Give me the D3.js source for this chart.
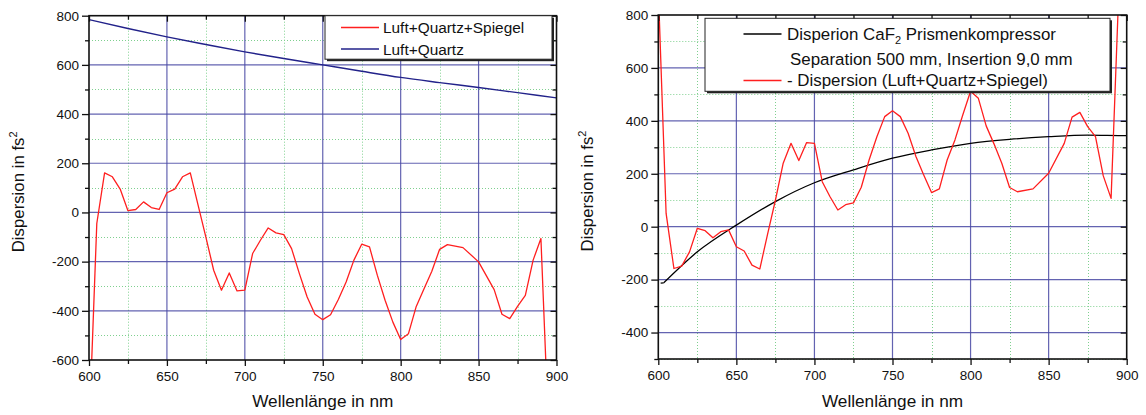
<!DOCTYPE html>
<html>
<head>
<meta charset="utf-8">
<script src="https://cdn.jsdelivr.net/npm/d3@7/dist/d3.min.js"></script>
<style>
  html, body { margin: 0; padding: 0; background: #fff; }
  svg { display: block; font-family: "Liberation Sans", Arial, sans-serif; }
</style>
</head>
<body>
<svg id="chart" width="1146" height="415"></svg>
<script>
// ---------- Data ----------
const xTicks = [600, 650, 700, 750, 800, 850, 900];
const xMinorTicks = [625, 675, 725, 775, 825, 875];
const leftYTicks = [-600, -400, -200, 0, 200, 400, 600, 800];
const leftYMinor = [-500, -300, -100, 100, 300, 500, 700];
const rightYTicks = [-400, -200, 0, 200, 400, 600, 800];
const rightYMinor = [-500, -300, -100, 100, 300, 500, 700];

// Left panel: Luft+Quartz
const lqWavelength = [600, 625, 650, 675, 700, 725, 750, 775, 800, 825, 850, 875, 900];
const lqDispersion = [784, 748, 714, 683, 653, 626, 600, 574, 549, 528, 508, 487, 466];

// Left panel: Luft+Quartz+Spiegel
const lqsWavelength = [600, 605, 610, 615, 620, 625, 630, 635, 640, 645, 650, 655, 660, 665, 670, 675, 680,
  685, 690, 695, 700, 705, 710, 715, 720, 725, 730, 735, 740, 745, 750, 755, 760, 765, 770, 775, 780,
  785, 790, 795, 800, 805, 810, 815, 820, 825, 830, 840, 850, 860, 865, 870, 875, 880, 885, 890, 895];
const lqsDispersion = [-900, -45, 161, 145, 95, 7, 12, 43, 20, 12, 80, 95, 145, 161, 30, -100, -235,
  -316, -246, -319, -316, -167, -113, -63, -83, -90, -147, -249, -344, -414, -436, -416, -354, -283, -194, -129, -140,
  -255, -357, -446, -517, -493, -382, -310, -239, -150, -131, -143, -201, -314, -414, -432, -382, -337, -194, -106, -900];

// Right panel: CaF2 prism compressor
const prismStubWavelength = [601.5, 603.5];
const prismStubDispersion = [-213, -212];
const prismWavelength = [603.5, 625, 650, 675, 700, 725, 750, 775, 800, 825, 850, 875, 900, 901];
const prismDispersion = [-212, -95, 6, 95, 166, 215, 259, 290, 315, 330, 340, 346, 344, 344];

// Right panel: - Dispersion (Luft+Quartz+Spiegel)
const negWavelength = [600, 605, 610, 615, 620, 625, 630, 635, 640, 645, 650, 655, 660, 665, 670, 675, 680,
  685, 690, 695, 700, 705, 710, 715, 720, 725, 730, 735, 740, 745, 750, 755, 760, 765, 770, 775, 780,
  785, 790, 795, 800, 805, 810, 815, 820, 825, 830, 840, 850, 860, 865, 870, 875, 880, 885, 890, 895];
const negDispersion = [900, 50, -158, -149, -95, -6, -15, -42, -19, -12, -76, -92, -145, -160, -28, 100, 240,
  315, 250, 318, 315, 170, 113, 63, 83, 90, 149, 252, 340, 416, 438, 416, 353, 265, 195, 129, 143,
  252, 328, 422, 512, 485, 381, 313, 240, 148, 132, 143, 202, 315, 414, 432, 378, 340, 192, 107, 900];

// ---------- Styles ----------
const RED = "#ff1f1f", NAVY = "#22228a", BLACK = "#000";
const MAJOR_GRID = "#4848a4", MINOR_GRID = "#7fd08f";

const svg = d3.select("#chart");

function drawPanel(cfg) {
  const x = d3.scaleLinear().domain([600, 900]).range([cfg.x0, cfg.x1]);
  const y = d3.scaleLinear().domain(cfg.yDomain).range([cfg.y1, cfg.y0]);
  const g = svg.append("g");
  const clipId = "clip" + cfg.id;
  svg.append("defs").append("clipPath").attr("id", clipId)
    .append("rect").attr("x", cfg.x0).attr("y", cfg.y0)
    .attr("width", cfg.x1 - cfg.x0).attr("height", cfg.y1 - cfg.y0);

  // minor grid (dotted green)
  g.append("g").selectAll("line").data(xMinorTicks).join("line")
    .attr("x1", d => Math.round(x(d)) + 0.5).attr("x2", d => Math.round(x(d)) + 0.5)
    .attr("y1", cfg.y0).attr("y2", cfg.y1)
    .attr("stroke", MINOR_GRID).attr("stroke-width", 1).attr("stroke-dasharray", "1,2");
  g.append("g").selectAll("line").data(cfg.yMinor).join("line")
    .attr("x1", cfg.x0).attr("x2", cfg.x1)
    .attr("y1", d => Math.round(y(d)) + 0.5).attr("y2", d => Math.round(y(d)) + 0.5)
    .attr("stroke", MINOR_GRID).attr("stroke-width", 1).attr("stroke-dasharray", "1,2");
  // major grid (blue)
  g.append("g").selectAll("line").data(xTicks.slice(1, -1)).join("line")
    .attr("x1", d => x(d)).attr("x2", d => x(d)).attr("y1", cfg.y0).attr("y2", cfg.y1)
    .attr("stroke", MAJOR_GRID).attr("stroke-width", 1.2).attr("opacity", 0.85);
  g.append("g").selectAll("line").data(cfg.yTicks.filter(d => d > cfg.yDomain[0] && d < cfg.yDomain[1])).join("line")
    .attr("x1", cfg.x0).attr("x2", cfg.x1).attr("y1", d => y(d)).attr("y2", d => y(d))
    .attr("stroke", MAJOR_GRID).attr("stroke-width", 1.2).attr("opacity", 0.85);

  // series
  const sg = g.append("g").attr("clip-path", `url(#${clipId})`);
  cfg.series.forEach(s => {
    const line = d3.line().x(d => x(d[0])).y(d => y(d[1]))
      .curve(s.smooth ? d3.curveMonotoneX : d3.curveLinear);
    sg.append("path").datum(d3.zip(s.xs, s.ys)).attr("d", line)
      .attr("fill", "none").attr("stroke", s.color).attr("stroke-width", s.width)
      .attr("stroke-linejoin", "round");
  });

  // axes
  const fmt = d => String(d);
  g.append("g").attr("transform", `translate(0,${cfg.y1})`)
    .call(d3.axisBottom(x).tickValues(xTicks).tickFormat(fmt).tickSize(6).tickPadding(5));
  g.append("g").attr("transform", `translate(0,${cfg.y1})`)
    .call(d3.axisBottom(x).tickValues(xMinorTicks).tickFormat("").tickSize(4));
  g.append("g").attr("transform", `translate(0,${cfg.y0})`)
    .call(d3.axisBottom(x).tickValues(xTicks).tickFormat("").tickSize(6));
  g.append("g").attr("transform", `translate(0,${cfg.y0})`)
    .call(d3.axisBottom(x).tickValues(xMinorTicks).tickFormat("").tickSize(4));
  g.append("g").attr("transform", `translate(${cfg.x0},0)`)
    .call(d3.axisLeft(y).tickValues(cfg.yTicks).tickFormat(fmt).tickSize(7).tickPadding(3));
  g.append("g").attr("transform", `translate(${cfg.x0},0)`)
    .call(d3.axisLeft(y).tickValues(cfg.yMinor).tickFormat("").tickSize(4));
  g.append("g").attr("transform", `translate(${cfg.x1},0)`)
    .call(d3.axisLeft(y).tickValues(cfg.yTicks).tickFormat("").tickSize(6));
  g.append("g").attr("transform", `translate(${cfg.x1},0)`)
    .call(d3.axisLeft(y).tickValues(cfg.yMinor).tickFormat("").tickSize(4));

  g.selectAll(".domain").remove();
  g.selectAll(".tick line").attr("stroke", "#111").attr("stroke-width", 1.3);
  g.selectAll(".tick text").attr("font-size", 13.5).attr("fill", "#111")
    .attr("font-family", "'Liberation Sans', Arial, sans-serif");

  // frame
  g.append("rect").attr("x", cfg.x0).attr("y", cfg.y0)
    .attr("width", cfg.x1 - cfg.x0).attr("height", cfg.y1 - cfg.y0)
    .attr("fill", "none").attr("stroke", "#111").attr("stroke-width", 1.6);

  // axis titles
  g.append("text").attr("x", (cfg.x0 + cfg.x1) / 2).attr("y", 406.5)
    .attr("text-anchor", "middle").attr("font-size", 17.2).attr("fill", "#111")
    .text("Wellenlänge in nm");
  const yt = g.append("text")
    .attr("transform", `translate(${cfg.x0 - 65.5},${(cfg.y0 + cfg.y1) / 2 + 4}) rotate(-90)`)
    .attr("text-anchor", "middle").attr("font-size", 16.8).attr("fill", "#111");
  yt.append("tspan").text("Dispersion in fs");
  yt.append("tspan").attr("dy", -7).attr("font-size", 11).text("2");

  // legend
  const L = cfg.legend;
  const lg = g.append("g");
  lg.append("rect").attr("x", L.x + 2).attr("y", L.y + 2).attr("width", L.w).attr("height", L.h)
    .attr("fill", "#222");
  lg.append("rect").attr("x", L.x).attr("y", L.y).attr("width", L.w).attr("height", L.h)
    .attr("fill", "#fff").attr("stroke", "#222").attr("stroke-width", 1);
  L.rows.forEach(r => {
    if (r.color) {
      lg.append("line").attr("x1", L.lx0).attr("x2", L.lx1).attr("y1", r.ly).attr("y2", r.ly)
        .attr("stroke", r.color).attr("stroke-width", 1.3);
    }
    const t = lg.append("text").attr("x", r.tx).attr("y", r.ty).attr("font-size", L.fs).attr("fill", "#111");
    r.parts.forEach(p => {
      const sp = t.append("tspan").text(p.t);
      if (p.sub) sp.attr("font-size", 11).attr("dy", 4);
      if (p.after) sp.attr("dy", -4);
    });
  });
}

drawPanel({
  id: "L", x0: 89, x1: 556.5, y0: 15.7, y1: 360,
  yDomain: [-600, 800], yTicks: leftYTicks, yMinor: leftYMinor,
  series: [
    { xs: lqWavelength, ys: lqDispersion, color: NAVY, width: 1.4, smooth: true },
    { xs: lqsWavelength, ys: lqsDispersion, color: RED, width: 1.3 }
  ],
  legend: {
    x: 325, y: 15.7, w: 227, h: 43.5, lx0: 341, lx1: 379, fs: 15.4,
    rows: [
      { color: RED, ly: 27.5, tx: 383, ty: 33, parts: [{ t: "Luft+Quartz+Spiegel" }] },
      { color: NAVY, ly: 49, tx: 383, ty: 54.5, parts: [{ t: "Luft+Quartz" }] }
    ]
  }
});

drawPanel({
  id: "R", x0: 658.3, x1: 1126.7, y0: 15, y1: 359,
  yDomain: [-500, 800], yTicks: rightYTicks, yMinor: rightYMinor,
  series: [
    { xs: prismStubWavelength, ys: prismStubDispersion, color: BLACK, width: 1.3 },
    { xs: prismWavelength, ys: prismDispersion, color: BLACK, width: 1.3, smooth: true },
    { xs: negWavelength, ys: negDispersion, color: RED, width: 1.3 }
  ],
  legend: {
    x: 705, y: 18.3, w: 405, h: 73, lx0: 743.5, lx1: 781.5, fs: 16.9,
    rows: [
      { color: BLACK, ly: 34, tx: 787, ty: 39.5,
        parts: [{ t: "Disperion CaF" }, { t: "2", sub: true }, { t: " Prismenkompressor", after: true }] },
      { color: null, tx: 790, ty: 64.5, parts: [{ t: "Separation 500 mm, Insertion 9,0 mm" }] },
      { color: RED, ly: 80.5, tx: 787, ty: 86, parts: [{ t: "- Dispersion (Luft+Quartz+Spiegel)" }] }
    ]
  }
});
</script>
</body>
</html>
